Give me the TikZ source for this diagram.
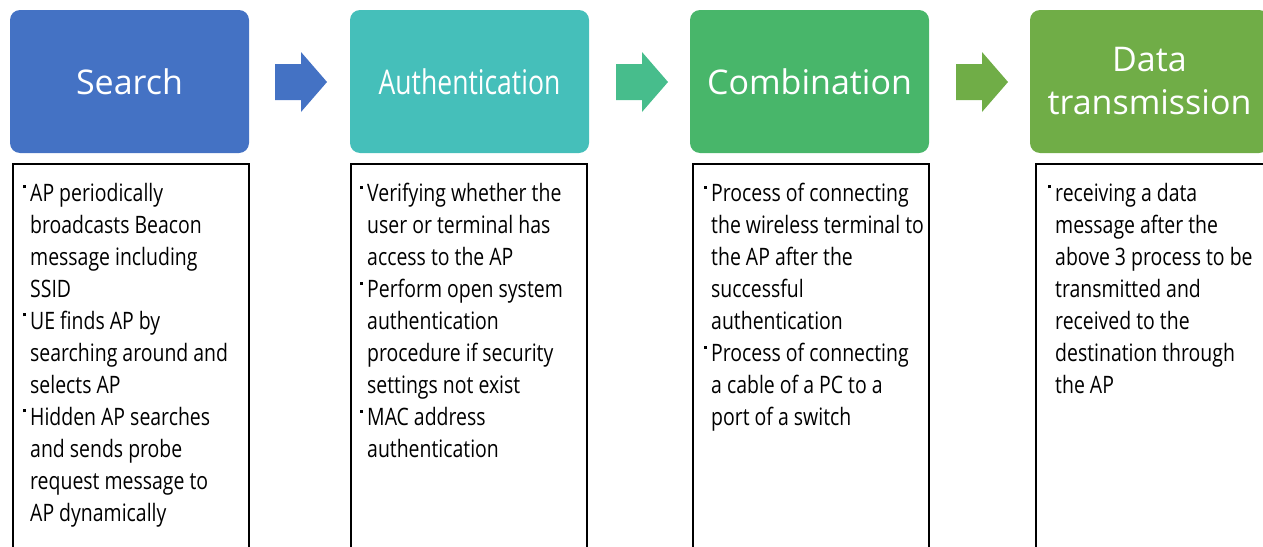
\documentclass[tikz,border=0pt]{standalone}
\usepackage{fontspec}
\usepackage{graphicx}
\setmainfont{Open Sans}
\newfontfamily\bodyfont{Open Sans}[FakeStretch=0.81]
\definecolor{cSearch}{HTML}{4472C4}
\definecolor{cAuth}{HTML}{45BFBA}
\definecolor{cArrowB}{HTML}{47BD8C}
\definecolor{cComb}{HTML}{48B66A}
\definecolor{cData}{HTML}{70AD47}
% raised square bullet hanging left of the text column
\newcommand\bul{\makebox[0pt][r]{\raisebox{13pt}{\rule{3pt}{3pt}}\hspace{4pt}}}
% block arrow: left x, colour
\newcommand\blockarrow[2]{%
  \fill[#2] (#1,64) -- ++(26,0) -- ++(0,-12) -- ++(26,30) -- ++(-26,30) -- ++(0,-12) -- ++(-26,0) -- cycle;}
\tikzset{
  head/.style={rounded corners=10pt, minimum width=239pt, minimum height=143pt,
    inner sep=0pt, text=white, align=center, font=\fontsize{34}{43}\selectfont},
  panel/.style={draw=black, line width=2pt, minimum width=236pt, minimum height=420pt,
    anchor=north west, inner sep=0pt},
  bodytext/.style={anchor=north west, inner sep=0pt, align=left,
    font=\bodyfont\fontsize{24}{32}\selectfont},
}
\begin{document}
\begin{tikzpicture}[x=1pt,y=-1pt]
\useasboundingbox (0,0) rectangle (1263,546);
\clip (0,0) rectangle (1263,546);

% stage headers
\node[head, fill=cSearch] (h1) at (129.5,81.5) {Search};
\node[head, fill=cAuth]   (h2) at (469.5,81.5) {\scalebox{0.78}[1]{Authentication}};
\node[head, fill=cComb]   (h3) at (809.5,81.5) {Combination};
\node[head, fill=cData]   (h4) at (1149.5,81.5) {Data\\transmission};

% arrows between stages
\blockarrow{275}{cSearch}
\blockarrow{616}{cArrowB}
\blockarrow{956}{cData}

% description panels
\node[panel] (p1) at (12,163) {};
\node[panel] (p2) at (350,163) {};
\node[panel] (p3) at (692,163) {};
\node[panel] (p4) at (1035,163) {};

\node[bodytext] (t1) at (30,183) {%
\bul AP periodically\\
broadcasts Beacon\\
message including\\
SSID\\
\bul UE finds AP by\\
searching around and\\
selects AP\\
\bul Hidden AP searches\\
and sends probe\\
request message to\\
AP dynamically};

\node[bodytext] (t2) at (367,183) {%
\bul Verifying whether the\\
user or terminal has\\
access to the AP\\
\bul Perform open system\\
authentication\\
procedure if security\\
settings not exist\\
\bul MAC address\\
authentication};

\node[bodytext] (t3) at (711,183) {%
\bul Process of connecting\\
the wireless terminal to\\
the AP after the\\
successful\\
authentication\\
\bul Process of connecting\\
a cable of a PC to a\\
port of a switch};

\node[bodytext] (t4) at (1055,183) {%
\bul receiving a data\\
message after the\\
above 3 process to be\\
transmitted and\\
received to the\\
destination through\\
the AP};
\end{tikzpicture}
\end{document}
